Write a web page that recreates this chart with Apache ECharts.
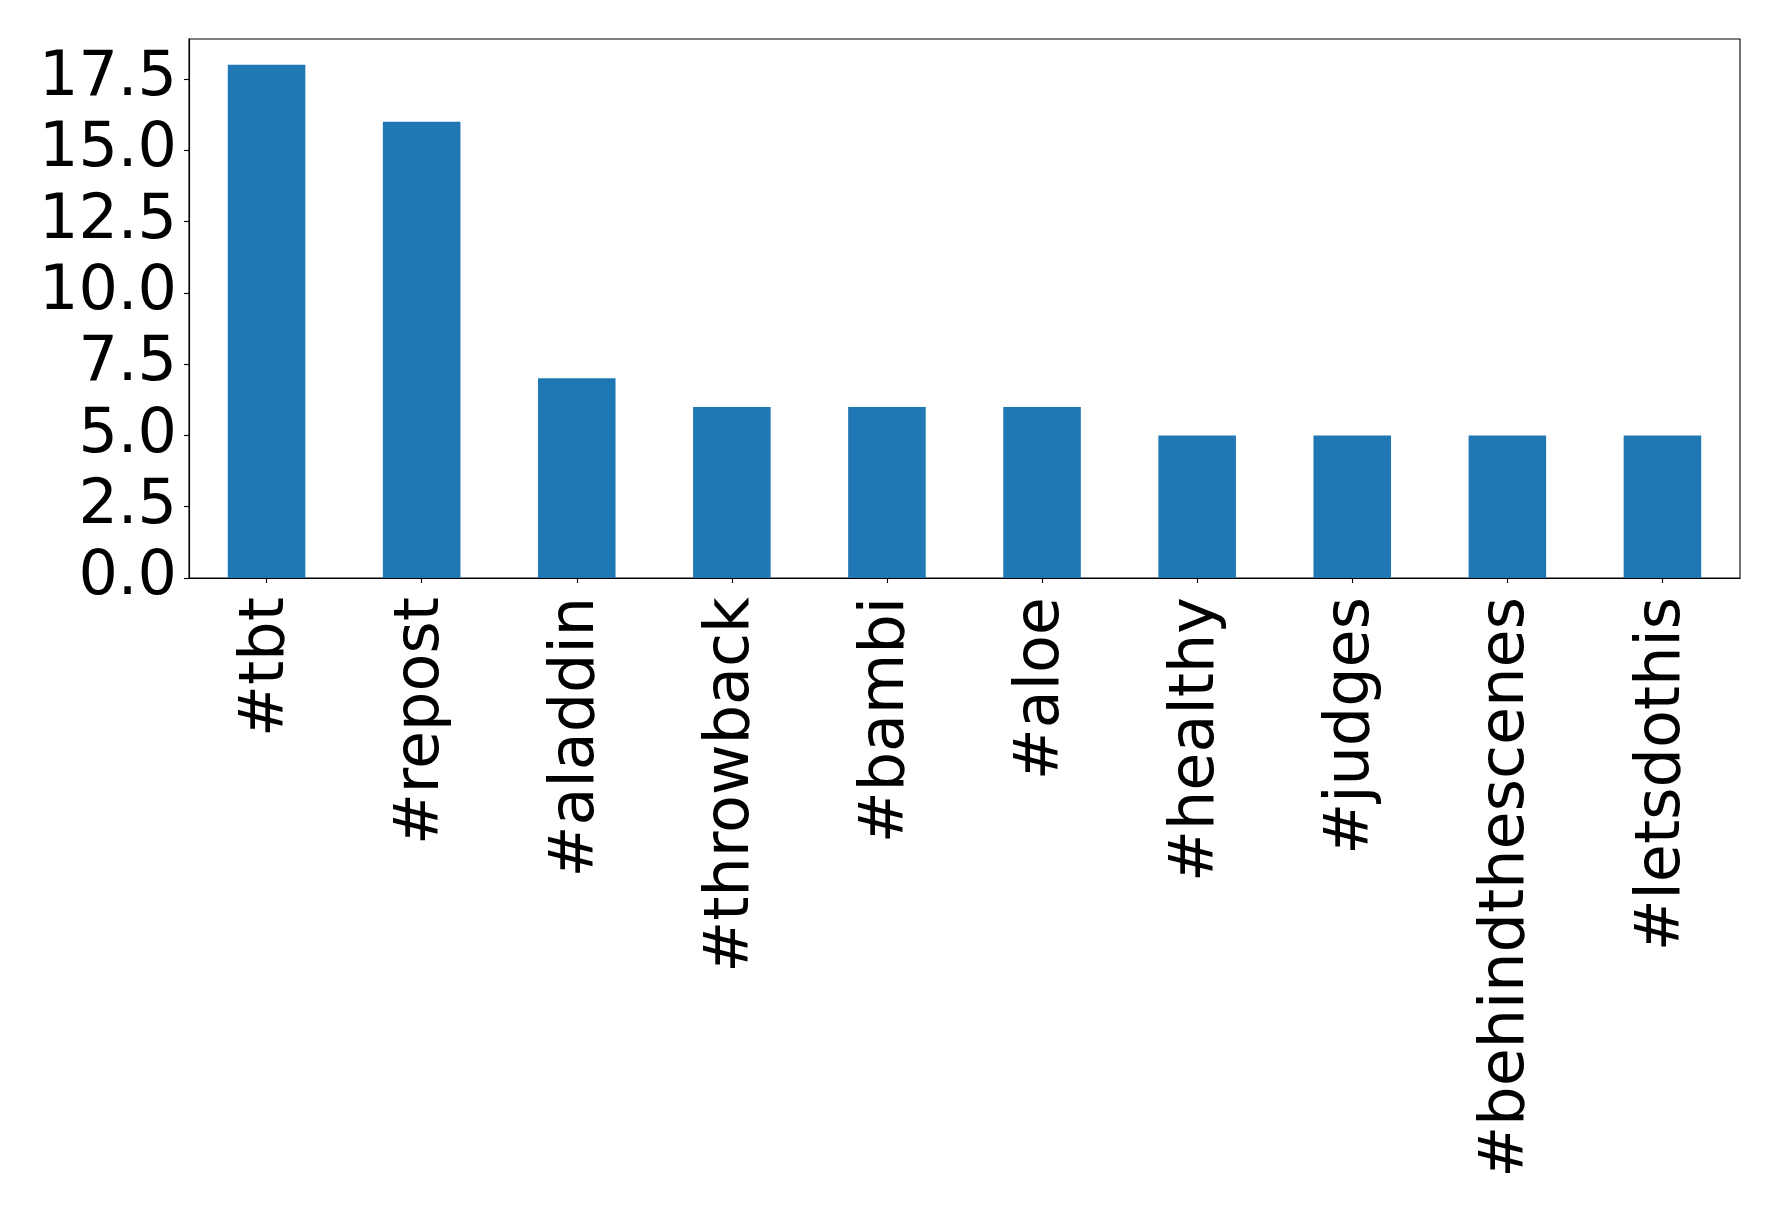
<!DOCTYPE html>
<html>
<head>
<meta charset="utf-8">
<script src="https://cdn.jsdelivr.net/npm/echarts@6/dist/echarts.min.js"></script>
<style>
html,body{margin:0;padding:0;background:#fff;}
#chart{width:1778px;height:1213px;}
</style>
</head>
<body>
<div id="chart"></div>
<script>
const categories = ["#tbt", "#repost", "#aladdin", "#throwback", "#bambi", "#aloe", "#healthy", "#judges", "#behindthescenes", "#letsdothis"];
const counts = [18, 16, 7, 6, 6, 6, 5, 5, 5, 5];
const yTicks = [0, 2.5, 5, 7.5, 10, 12.5, 15, 17.5];
const yMax = 18.9;

const chart = echarts.init(document.getElementById('chart'), null, {renderer: 'canvas'});
const font = 'DejaVu Sans';
chart.setOption({
  animation: false,
  backgroundColor: '#ffffff',
  grid: {
    left: 189, top: 39, right: 38, bottom: 635,
    show: true, borderColor: '#000', borderWidth: 1.1, backgroundColor: 'transparent'
  },
  xAxis: {
    type: 'category',
    data: categories,
    boundaryGap: true,
    axisLine: {show: true, lineStyle: {color: '#000', width: 1.1}},
    axisTick: {show: true, alignWithLabel: true, length: 5, lineStyle: {color: '#000', width: 1.1}},
    axisLabel: {
      rotate: 90, interval: 0, margin: 19,
      color: '#000', fontFamily: font, fontSize: 62
    },
    splitLine: {show: false}
  },
  yAxis: {
    type: 'value',
    min: 0, max: yMax,
    axisLine: {show: true, lineStyle: {color: '#000', width: 1.1}},
    axisTick: {show: true, length: 5, customValues: yTicks, lineStyle: {color: '#000', width: 1.1}},
    axisLabel: {
      customValues: yTicks,
      margin: 12, color: '#000', fontFamily: font, fontSize: 62,
      formatter: v => Number(v).toFixed(1)
    },
    splitLine: {show: false}
  },
  series: [{
    type: 'bar',
    data: counts,
    barWidth: '50%',
    itemStyle: {color: '#1f77b4'}
  }]
});
</script>
</body>
</html>
